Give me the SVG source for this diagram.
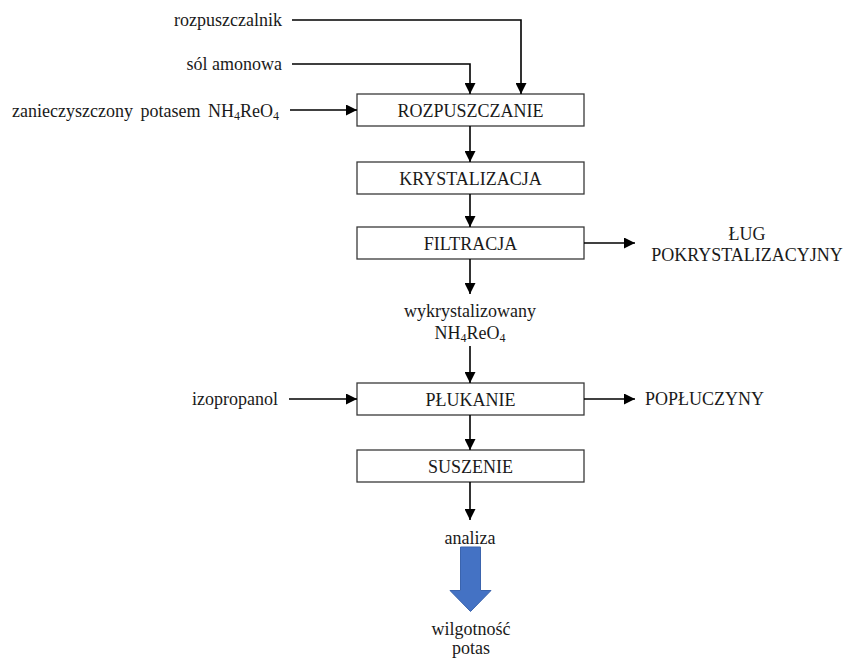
<svg xmlns="http://www.w3.org/2000/svg" width="845" height="659" viewBox="0 0 845 659">
  <defs>
    <style>
      .box { fill: #ffffff; stroke: #3a3a3a; stroke-width: 1.3; }
      .lbl { font-family: "Liberation Serif", "Times New Roman", serif; font-size: 18px; fill: #1a1a1a; }
      .c { text-anchor: middle; }
      .r { text-anchor: end; }
      .ln { fill: none; stroke: #000000; stroke-width: 1.6; }
    </style>
    <marker id="ah" markerWidth="12" markerHeight="11" refX="11" refY="5.5" orient="auto" markerUnits="userSpaceOnUse">
      <path d="M0,0 L11,5.5 L0,11 Z" fill="#000000"/>
    </marker>
  </defs>
  <rect width="845" height="659" fill="#ffffff"/>

  <!-- process steps -->
  <g id="rozpuszczanie">
    <rect class="box" x="357" y="94" width="227" height="32"/>
    <text class="lbl c" x="470.5" y="116.5">ROZPUSZCZANIE</text>
  </g>
  <g id="krystalizacja">
    <rect class="box" x="357" y="162" width="227" height="32"/>
    <text class="lbl c" x="470.5" y="184.5">KRYSTALIZACJA</text>
  </g>
  <g id="filtracja">
    <rect class="box" x="357" y="227" width="227" height="32"/>
    <text class="lbl c" x="470.5" y="249.5">FILTRACJA</text>
  </g>
  <g id="plukanie">
    <rect class="box" x="357" y="383" width="227" height="32"/>
    <text class="lbl c" x="470.5" y="405.5">PŁUKANIE</text>
  </g>
  <g id="suszenie">
    <rect class="box" x="357" y="450" width="227" height="32"/>
    <text class="lbl c" x="470.5" y="472.5">SUSZENIE</text>
  </g>

  <!-- inputs and outputs -->
  <g id="in-rozpuszczalnik">
    <text class="lbl r" x="282" y="26">rozpuszczalnik</text>
  </g>
  <g id="in-sol">
    <text class="lbl r" x="282" y="70">sól amonowa</text>
  </g>
  <g id="in-nh4reo4">
    <text class="lbl r" x="279" y="117" word-spacing="3">zanieczyszczony potasem NH<tspan font-size="12" dy="3">4</tspan><tspan dy="-3">ReO</tspan><tspan font-size="12" dy="3">4</tspan></text>
  </g>
  <g id="out-lug">
    <text class="lbl c" x="747" y="240">ŁUG</text>
    <text class="lbl c" x="747" y="261">POKRYSTALIZACYJNY</text>
  </g>
  <g id="mid-nh4reo4">
    <text class="lbl c" x="470" y="317">wykrystalizowany</text>
    <text class="lbl c" x="470" y="339">NH<tspan font-size="12" dy="3">4</tspan><tspan dy="-3">ReO</tspan><tspan font-size="12" dy="3">4</tspan></text>
  </g>
  <g id="in-izopropanol">
    <text class="lbl r" x="278" y="405">izopropanol</text>
  </g>
  <g id="out-popluczyny">
    <text class="lbl" x="645" y="405">POPŁUCZYNY</text>
  </g>
  <g id="analiza">
    <text class="lbl c" x="470" y="544">analiza</text>
  </g>
  <g id="wynik">
    <text class="lbl c" x="471" y="635">wilgotność</text>
    <text class="lbl c" x="471" y="654">potas</text>
  </g>

  <!-- connectors -->
  <g id="connectors">
    <polyline class="ln" points="292,20 521,20 521,94" marker-end="url(#ah)"/>
    <polyline class="ln" points="292,64 470,64 470,94" marker-end="url(#ah)"/>
    <line class="ln" x1="290" y1="110" x2="357" y2="110" marker-end="url(#ah)"/>
    <line class="ln" x1="470" y1="126" x2="470" y2="162" marker-end="url(#ah)"/>
    <line class="ln" x1="470" y1="194" x2="470" y2="227" marker-end="url(#ah)"/>
    <line class="ln" x1="584" y1="243" x2="635" y2="243" marker-end="url(#ah)"/>
    <line class="ln" x1="470" y1="259" x2="470" y2="294" marker-end="url(#ah)"/>
    <line class="ln" x1="470" y1="346" x2="470" y2="383" marker-end="url(#ah)"/>
    <line class="ln" x1="289" y1="399" x2="357" y2="399" marker-end="url(#ah)"/>
    <line class="ln" x1="584" y1="399" x2="635" y2="399" marker-end="url(#ah)"/>
    <line class="ln" x1="470" y1="415" x2="470" y2="450" marker-end="url(#ah)"/>
    <line class="ln" x1="470" y1="482" x2="470" y2="520" marker-end="url(#ah)"/>
    <!-- block arrow towards results -->
    <path d="M460.5,547 L480.5,547 L480.5,590.5 L491,590.5 L470.5,611.5 L450,590.5 L460.5,590.5 Z" fill="#4472c4" stroke="#3b64ad" stroke-width="1"/>
  </g>
</svg>
